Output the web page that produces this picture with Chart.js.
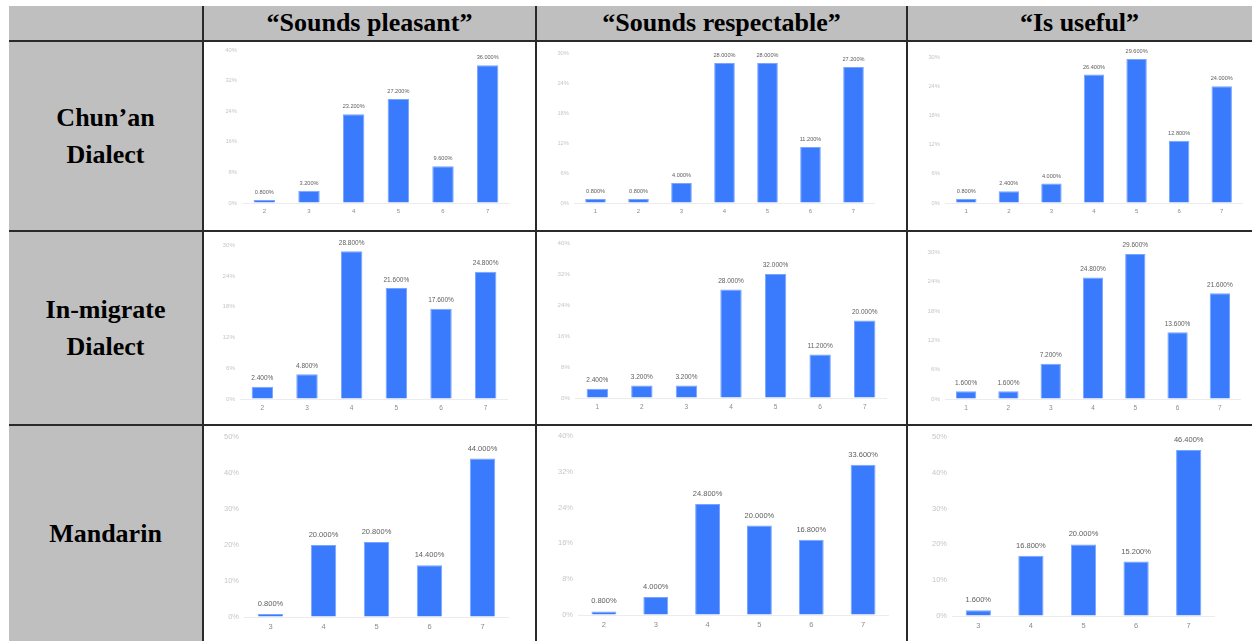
<!DOCTYPE html>
<html>
<head>
<meta charset="utf-8">
<script src="https://cdn.jsdelivr.net/npm/chart.js@4.4.1/dist/chart.umd.min.js"></script>
<style>
  html, body { margin: 0; padding: 0; background: #fff; width: 1252px; height: 641px; overflow: hidden; position: relative; }
  .gray { position: absolute; background: #bfbfbf; }
  .rule { position: absolute; background: #2a2a2a; }
  .head { position: absolute; top: 6px; height: 34px; display: flex; align-items: center; justify-content: center;
          font: bold 26px "Liberation Serif", "Times New Roman", serif; color: #000; white-space: nowrap; }
  .rowhead { position: absolute; left: 9px; width: 193px; display: flex; align-items: center; justify-content: center;
             text-align: center; font: bold 26px/37px "Liberation Serif", "Times New Roman", serif; color: #000; }
  canvas { position: absolute; }
</style>
</head>
<body>
<script>
// Column and row headings
const attitudes = ['“Sounds pleasant”', '“Sounds respectable”', '“Is useful”'];
const varieties = [['Chun’an', 'Dialect'], ['In-migrate', 'Dialect'], ['Mandarin']];

// Rating categories (1–7 scale) and percentage of respondents per rating
const chunanPleasantRatings = ['2', '3', '4', '5', '6', '7'];
const chunanPleasantShares  = [0.8, 3.2, 23.2, 27.2, 9.6, 36.0];
const chunanPleasantTicks   = [0, 8, 16, 24, 32, 40];

const chunanRespectRatings = ['1', '2', '3', '4', '5', '6', '7'];
const chunanRespectShares  = [0.8, 0.8, 4.0, 28.0, 28.0, 11.2, 27.2];
const chunanRespectTicks   = [0, 6, 12, 18, 24, 30];

const chunanUsefulRatings = ['1', '2', '3', '4', '5', '6', '7'];
const chunanUsefulShares  = [0.8, 2.4, 4.0, 26.4, 29.6, 12.8, 24.0];
const chunanUsefulTicks   = [0, 6, 12, 18, 24, 30];

const migrantPleasantRatings = ['2', '3', '4', '5', '6', '7'];
const migrantPleasantShares  = [2.4, 4.8, 28.8, 21.6, 17.6, 24.8];
const migrantPleasantTicks   = [0, 6, 12, 18, 24, 30];

const migrantRespectRatings = ['1', '2', '3', '4', '5', '6', '7'];
const migrantRespectShares  = [2.4, 3.2, 3.2, 28.0, 32.0, 11.2, 20.0];
const migrantRespectTicks   = [0, 8, 16, 24, 32, 40];

const migrantUsefulRatings = ['1', '2', '3', '4', '5', '6', '7'];
const migrantUsefulShares  = [1.6, 1.6, 7.2, 24.8, 29.6, 13.6, 21.6];
const migrantUsefulTicks   = [0, 6, 12, 18, 24, 30];

const mandarinPleasantRatings = ['3', '4', '5', '6', '7'];
const mandarinPleasantShares  = [0.8, 20.0, 20.8, 14.4, 44.0];
const mandarinPleasantTicks   = [0, 10, 20, 30, 40, 50];

const mandarinRespectRatings = ['2', '3', '4', '5', '6', '7'];
const mandarinRespectShares  = [0.8, 4.0, 24.8, 20.0, 16.8, 33.6];
const mandarinRespectTicks   = [0, 8, 16, 24, 32, 40];

const mandarinUsefulRatings = ['3', '4', '5', '6', '7'];
const mandarinUsefulShares  = [1.6, 16.8, 20.0, 15.2, 46.4];
const mandarinUsefulTicks   = [0, 10, 20, 30, 40, 50];

// ---- table frame ----
function addDiv(cls, l, t, w, h, text) {
  const d = document.createElement('div');
  d.className = cls;
  d.style.left = l + 'px'; d.style.top = t + 'px';
  d.style.width = w + 'px'; d.style.height = h + 'px';
  if (text) d.innerHTML = text;
  document.body.appendChild(d);
  return d;
}
addDiv('gray', 9, 6, 1243, 35);
addDiv('gray', 9, 6, 194, 635);

const colEdges = [203, 536, 907, 1252];
const rowEdges = [41, 231, 425, 641];

attitudes.forEach((t, i) => {
  const d = addDiv('head', colEdges[i], 6, colEdges[i + 1] - colEdges[i], 34);
  d.textContent = t;
});
varieties.forEach((lines, i) => {
  const d = addDiv('rowhead', 9, rowEdges[i], 193, rowEdges[i + 1] - rowEdges[i]);
  d.innerHTML = lines.join('<br>');
});

addDiv('rule', 9, 40, 1243, 2);
addDiv('rule', 9, 230, 1243, 2);
addDiv('rule', 9, 424, 1243, 2);
addDiv('rule', 202, 6, 2, 635);
addDiv('rule', 535, 6, 2, 635);
addDiv('rule', 906, 6, 2, 635);

// ---- bar value labels ----
const valueLabels = {
  id: 'valueLabels',
  afterDatasetsDraw(chart, args, opts) {
    const ctx = chart.ctx;
    const meta = chart.getDatasetMeta(0);
    const values = chart.data.datasets[0].data;
    ctx.save();
    ctx.font = opts.size + 'px "Liberation Sans", Arial, sans-serif';
    ctx.fillStyle = '#606060';
    ctx.textAlign = 'center';
    ctx.textBaseline = 'middle';
    meta.data.forEach((bar, i) => {
      ctx.fillText(values[i].toFixed(3) + '%', bar.x, bar.y - opts.offset);
    });
    ctx.restore();
  }
};

const rowFonts = [
  { x: 6,   y: 5.8, label: 5.6, offset: 7.5 },
  { x: 6.5, y: 6.2, label: 6.5, offset: 8.3 },
  { x: 7.5, y: 7.5, label: 7.5, offset: 10 }
];

// plot area of each panel (left, right, top, bottom)
const panelAreas = [
  [{ l: 242,   r: 510,  t: 50,    b: 203 },   { l: 574,   r: 875, t: 53.3,  b: 203.3 }, { l: 945,   r: 1243, t: 56.5,  b: 203.3 }],
  [{ l: 240,   r: 508,  t: 244.5, b: 399 },   { l: 575,   r: 887, t: 243,   b: 398.3 }, { l: 945,   r: 1241, t: 252,   b: 399 }],
  [{ l: 243.5, r: 508.5, t: 436.7, b: 616.7 }, { l: 577.6, r: 889, t: 435.5, b: 615 },   { l: 951.7, r: 1215, t: 436.5, b: 615.7 }]
];

const panelData = [
  [[chunanPleasantRatings, chunanPleasantShares, chunanPleasantTicks],
   [chunanRespectRatings, chunanRespectShares, chunanRespectTicks],
   [chunanUsefulRatings, chunanUsefulShares, chunanUsefulTicks]],
  [[migrantPleasantRatings, migrantPleasantShares, migrantPleasantTicks],
   [migrantRespectRatings, migrantRespectShares, migrantRespectTicks],
   [migrantUsefulRatings, migrantUsefulShares, migrantUsefulTicks]],
  [[mandarinPleasantRatings, mandarinPleasantShares, mandarinPleasantTicks],
   [mandarinRespectRatings, mandarinRespectShares, mandarinRespectTicks],
   [mandarinUsefulRatings, mandarinUsefulShares, mandarinUsefulTicks]]
];

function makePanel(area, labels, values, ticks, fonts) {
  const padL = 40, padT = 20, padR = 8, padB = 24;
  const left = Math.round(area.l), top = Math.round(area.t);
  const w = Math.round(area.r) - left + padL + padR;
  const h = Math.round(area.b) - top + padT + padB;
  const canvas = document.createElement('canvas');
  canvas.width = w; canvas.height = h;
  canvas.style.left = (left - padL) + 'px';
  canvas.style.top = (top - padT) + 'px';
  canvas.style.width = w + 'px';
  canvas.style.height = h + 'px';
  document.body.appendChild(canvas);

  new Chart(canvas, {
    type: 'bar',
    data: {
      labels: labels,
      datasets: [{
        data: values,
        backgroundColor: '#3a7bfd',
        borderColor: '#78a5ff',
        borderWidth: 1,
        barPercentage: 0.48,
        categoryPercentage: 1
      }]
    },
    options: {
      responsive: false,
      animation: false,
      devicePixelRatio: 1,
      layout: { padding: { top: padT, right: padR, left: 0, bottom: 0 } },
      plugins: {
        legend: { display: false },
        tooltip: { enabled: false },
        valueLabels: { size: fonts.label, offset: fonts.offset }
      },
      scales: {
        x: {
          grid: { display: false, drawTicks: false },
          border: { display: false },
          ticks: { color: '#8c8c8c', font: { size: fonts.x, family: '"Liberation Sans", Arial, sans-serif' }, padding: 5, maxRotation: 0 },
          afterFit: s => { s.height = padB; }
        },
        y: {
          min: 0,
          max: ticks[ticks.length - 1],
          afterBuildTicks: s => { s.ticks = ticks.map(v => ({ value: v })); },
          grid: {
            drawTicks: false,
            color: c => (c.tick && c.tick.value === 0) ? '#ececec' : 'rgba(0,0,0,0)'
          },
          border: { display: false },
          ticks: { color: '#c6c6c6', font: { size: fonts.y, family: '"Liberation Sans", Arial, sans-serif' }, padding: 5, callback: v => v + '%' },
          afterFit: s => { s.width = padL; }
        }
      }
    },
    plugins: [valueLabels]
  });
}

panelData.forEach((row, r) => {
  row.forEach((cell, c) => {
    makePanel(panelAreas[r][c], cell[0], cell[1], cell[2], rowFonts[r]);
  });
});
</script>
</body>
</html>
